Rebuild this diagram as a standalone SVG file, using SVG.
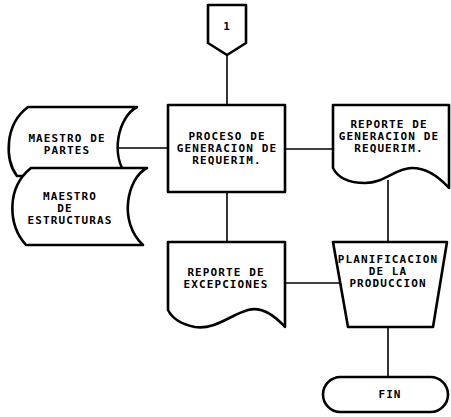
<svg xmlns="http://www.w3.org/2000/svg" width="451" height="417" viewBox="0 0 451 417">
<style>
.s{fill:#fff;stroke:#000;stroke-width:2.6;stroke-linejoin:round}
.c{stroke:#000;stroke-width:1.6;fill:none}
text{font-family:"DejaVu Sans Mono","Liberation Mono",monospace;font-weight:bold;font-size:11px;letter-spacing:1.1px;text-anchor:middle;fill:#000}
</style>
<rect width="451" height="417" fill="#fff"/>
<g id="connectors">
<line class="c" x1="227" y1="55" x2="227" y2="105"/>
<line class="c" x1="119" y1="148" x2="168" y2="148"/>
<line class="c" x1="285" y1="149" x2="333" y2="149"/>
<line class="c" x1="227" y1="192" x2="227" y2="242"/>
<line class="c" x1="285" y1="283" x2="340" y2="283"/>
<line class="c" x1="388" y1="180" x2="388" y2="242"/>
<line class="c" x1="388" y1="327" x2="388" y2="377"/>
</g>
<g id="conector1">
<path class="s" d="M208,5 H246 V43 L227,55 L208,43 Z"/>
<text x="227" y="30">1</text>
</g>
<g id="proceso">
<rect class="s" x="168" y="105" width="117" height="87"/>
<text x="227" y="140">PROCESO DE</text>
<text x="227" y="152">GENERACION DE</text>
<text x="227" y="164">REQUERIM.</text>
</g>
<g id="maestro-partes">
<path class="s" d="M28,107 H137 C118,117 110,155 127,176 H17 C5,160 4,125 28,107 Z"/>
<text x="67" y="142">MAESTRO DE</text>
<text x="67" y="154">PARTES</text>
</g>
<g id="maestro-estructuras">
<path class="s" d="M31,168 H147 C127,178 118,222 143,245 H26 C8,225 6,188 31,168 Z"/>
<text x="70" y="200">MAESTRO</text>
<text x="65" y="212">DE</text>
<text x="70" y="224">ESTRUCTURAS</text>
</g>
<g id="reporte-requerim">
<path class="s" d="M333,105 H449 V188 C440,178 428,168 412,168 C395,168 385,183 365,183 C350,183 338,178 333,168 Z"/>
<text x="389" y="128">REPORTE DE</text>
<text x="389" y="140">GENERACION DE</text>
<text x="389" y="152">REQUERIM.</text>
</g>
<g id="reporte-excepciones">
<path class="s" d="M168,242 H285 V327 C275,316 262,306 248,310 C230,315 215,330 195,327 C180,324 172,318 168,310 Z"/>
<text x="226" y="276">REPORTE DE</text>
<text x="226" y="288">EXCEPCIONES</text>
</g>
<g id="planificacion">
<path class="s" d="M333,242 H447 L433,327 H348 Z"/>
<text x="388" y="263">PLANIFICACION</text>
<text x="388" y="275">DE LA</text>
<text x="388" y="287">PRODUCCION</text>
</g>
<g id="fin">
<rect class="s" x="323" y="377" width="125" height="35" rx="17.5"/>
<text x="390" y="398">FIN</text>
</g>
</svg>
